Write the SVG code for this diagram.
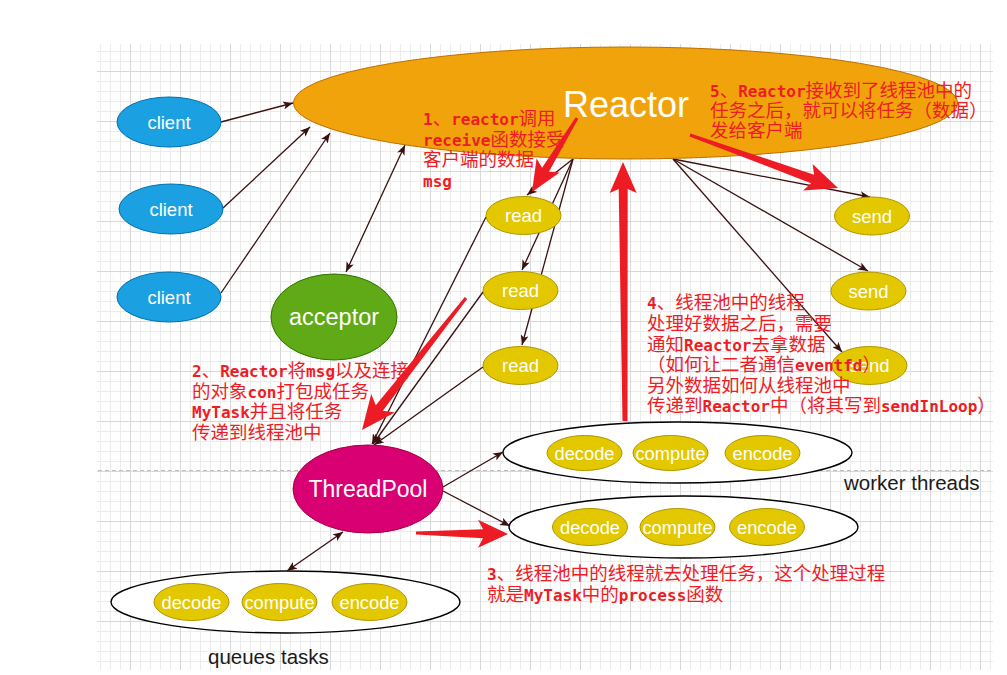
<svg xmlns="http://www.w3.org/2000/svg" width="1007" height="675" viewBox="0 0 1007 675">
<defs>
<pattern id="grid" x="130" y="71" width="50" height="50" patternUnits="userSpaceOnUse">
<rect width="50" height="50" fill="#ffffff"/>
<path d="M10.5,0V50M20.5,0V50M30.5,0V50M40.5,0V50M0,10.5H50M0,20.5H50M0,30.5H50M0,40.5H50" stroke="#ececec" stroke-width="1"/>
<path d="M0.5,0V50M0,0.5H50" stroke="#d8d8d8" stroke-width="1"/>
</pattern>
<marker id="ah" viewBox="0 0 10 8" refX="10" refY="4" markerWidth="10" markerHeight="8" markerUnits="userSpaceOnUse" orient="auto-start-reverse">
<path d="M0,0 L10,4 L0,8 L2.5,4z" fill="#3a0f0f"/>
</marker>
<style>
.lbl{font-family:"Liberation Sans",Arial,sans-serif;fill:#ffffff;text-anchor:middle}
.cap{font-family:"Liberation Sans",Arial,sans-serif;fill:#1a1a1a}
.note{font-family:"Noto Sans CJK SC",sans-serif;font-size:18.5px;fill:#ee1c25}
.m{font-family:"DejaVu Sans Mono",monospace;font-size:16px;font-weight:bold}
.con{fill:none;stroke:#3a0f0f;stroke-width:1.3;marker-end:url(#ah)}
.both{marker-start:url(#ah)}
.yel{fill:#e3c800;stroke:#b09500;stroke-width:1}
.box{fill:#ffffff;stroke:#000000;stroke-width:1.4}
.red{fill:#ed1c24;stroke:none}
</style>
</defs>
<rect width="1007" height="675" fill="#ffffff"/>
<rect x="97" y="44" width="896" height="626" fill="url(#grid)"/>
<line x1="98" y1="470.5" x2="993" y2="470.5" stroke="#bdbdbd" stroke-width="1" stroke-dasharray="4,3"/>

<g id="containers">
<g id="worker1-box"><ellipse cx="677.5" cy="452.5" rx="174.5" ry="30.5" class="box"/></g>
<g id="worker2-box"><ellipse cx="683.5" cy="527" rx="174.5" ry="31" class="box"/></g>
<g id="queue-box"><ellipse cx="285.5" cy="602" rx="174.5" ry="31" class="box"/></g>
</g>

<g id="connectors">
<path class="con" d="M221,122 L293,103"/>
<path class="con" d="M223,208 L310,127"/>
<path class="con" d="M221,293 L330,133"/>
<path class="con both" d="M405,145 L346,272"/>
<path class="con" d="M573,159 L527,195"/>
<path class="con" d="M573,159 L522,270"/>
<path class="con" d="M573,159 L522,345"/>
<path class="con" d="M486,217 L372,444"/>
<path class="con" d="M483,292 L373,444"/>
<path class="con" d="M483,367 L374,445"/>
<path class="con" d="M673,159 L870,197"/>
<path class="con" d="M673,159 L868,271"/>
<path class="con" d="M673,159 L842,352"/>
<path class="con" d="M443,487 L503,452"/>
<path class="con" d="M443,491 L510,526"/>
<path class="con both" d="M343,532 L287,571"/>
</g>

<g id="reactor">
<ellipse cx="625.5" cy="103" rx="332" ry="56" fill="#f0a30a" stroke="#bd7000" stroke-width="1"/>
<text x="626" y="117" class="lbl" font-size="36">Reactor</text>
</g>
<g id="client1"><ellipse cx="169" cy="122" rx="52" ry="25" fill="#1ba1e2" stroke="#006eaf"/><text x="169" y="129" class="lbl" font-size="18.5">client</text></g>
<g id="client2"><ellipse cx="171" cy="209" rx="52" ry="25" fill="#1ba1e2" stroke="#006eaf"/><text x="171" y="216" class="lbl" font-size="18.5">client</text></g>
<g id="client3"><ellipse cx="169" cy="297" rx="52" ry="25" fill="#1ba1e2" stroke="#006eaf"/><text x="169" y="304" class="lbl" font-size="18.5">client</text></g>
<g id="acceptor"><ellipse cx="334" cy="317" rx="63" ry="43" fill="#60a917" stroke="#2d7600"/><text x="334" y="325" class="lbl" font-size="23.5">acceptor</text></g>
<g id="read1"><ellipse cx="523.5" cy="215.5" rx="37.5" ry="19" class="yel"/><text x="523.5" y="222" class="lbl" font-size="18.5">read</text></g>
<g id="read2"><ellipse cx="520.5" cy="290.5" rx="37.5" ry="19" class="yel"/><text x="520.5" y="297" class="lbl" font-size="18.5">read</text></g>
<g id="read3"><ellipse cx="520.5" cy="365.5" rx="37.5" ry="19" class="yel"/><text x="520.5" y="372" class="lbl" font-size="18.5">read</text></g>
<g id="send1"><ellipse cx="872" cy="216" rx="37.5" ry="19" class="yel"/><text x="872" y="222.5" class="lbl" font-size="18.5">send</text></g>
<g id="send2"><ellipse cx="868.5" cy="291" rx="37.5" ry="19" class="yel"/><text x="868.5" y="297.5" class="lbl" font-size="18.5">send</text></g>
<g id="send3"><ellipse cx="869.5" cy="365.5" rx="37.5" ry="19" class="yel"/><text x="869.5" y="372" class="lbl" font-size="18.5">send</text></g>
<g id="threadpool"><ellipse cx="368" cy="489" rx="75" ry="44" fill="#d80073" stroke="#a50040"/><text x="368" y="497" class="lbl" font-size="23">ThreadPool</text></g>

<g id="w1-decode"><ellipse cx="584.5" cy="453" rx="37.5" ry="17.5" class="yel"/><text x="584.5" y="459.5" class="lbl" font-size="18.3">decode</text></g>
<g id="w1-compute"><ellipse cx="670.5" cy="453" rx="37.5" ry="17.5" class="yel"/><text x="670.5" y="459.5" class="lbl" font-size="18.3">compute</text></g>
<g id="w1-encode"><ellipse cx="762.5" cy="453" rx="37.5" ry="17.5" class="yel"/><text x="762.5" y="459.5" class="lbl" font-size="18.3">encode</text></g>
<g id="w2-decode"><ellipse cx="590" cy="527" rx="37.5" ry="18.5" class="yel"/><text x="590" y="533.5" class="lbl" font-size="18.3">decode</text></g>
<g id="w2-compute"><ellipse cx="677.5" cy="527" rx="37.5" ry="18.5" class="yel"/><text x="677.5" y="533.5" class="lbl" font-size="18.3">compute</text></g>
<g id="w2-encode"><ellipse cx="767" cy="527" rx="37.5" ry="18.5" class="yel"/><text x="767" y="533.5" class="lbl" font-size="18.3">encode</text></g>
<g id="q-decode"><ellipse cx="191.5" cy="602" rx="37.5" ry="18.5" class="yel"/><text x="191.5" y="608.5" class="lbl" font-size="18.3">decode</text></g>
<g id="q-compute"><ellipse cx="279.5" cy="602" rx="37.5" ry="18.5" class="yel"/><text x="279.5" y="608.5" class="lbl" font-size="18.3">compute</text></g>
<g id="q-encode"><ellipse cx="369.5" cy="602" rx="37.5" ry="18.5" class="yel"/><text x="369.5" y="608.5" class="lbl" font-size="18.3">encode</text></g>

<g id="captions">
<text x="844" y="490" class="cap" font-size="20.5">worker threads</text>
<text x="208" y="664" class="cap" font-size="20.5">queues tasks</text>
</g>

<g id="notes" class="note">
<text x="423" y="125"><tspan class="m">1</tspan>、<tspan class="m">reactor</tspan>调用</text>
<text x="423" y="145.5"><tspan class="m">receive</tspan>函数接受</text>
<text x="423" y="166">客户端的数据</text>
<text x="423" y="186.5"><tspan class="m">msg</tspan></text>

<text x="710" y="97"><tspan class="m">5</tspan>、<tspan class="m">Reactor</tspan>接收到了线程池中的</text>
<text x="710" y="117">任务之后，就可以将任务（数据）</text>
<text x="710" y="137">发给客户端</text>

<text x="192" y="377"><tspan class="m">2</tspan>、<tspan class="m">Reactor</tspan>将<tspan class="m">msg</tspan>以及连接</text>
<text x="192" y="397.5">的对象<tspan class="m">con</tspan>打包成任务</text>
<text x="192" y="418"><tspan class="m">MyTask</tspan>并且将任务</text>
<text x="192" y="438.5">传递到线程池中</text>

<text x="647" y="309"><tspan class="m">4</tspan>、线程池中的线程</text>
<text x="647" y="330">处理好数据之后，需要</text>
<text x="647" y="350.5">通知<tspan class="m">Reactor</tspan>去拿数据</text>
<text x="647" y="371">（如何让二者通信<tspan class="m">eventfd</tspan>）</text>
<text x="647" y="391.5">另外数据如何从线程池中</text>
<text x="647" y="412">传递到<tspan class="m">Reactor</tspan>中（将其写到<tspan class="m">sendInLoop</tspan>）</text>

<text x="487" y="580"><tspan class="m">3</tspan>、线程池中的线程就去处理任务，这个处理过程</text>
<text x="487" y="601">就是<tspan class="m">MyTask</tspan>中的<tspan class="m">process</tspan>函数</text>
</g>

<g id="red-arrows">
<polygon class="red" points="578.28,118.78 548.93,171.86 559.65,172.52 532,192 536.57,158.5 542.09,167.7 575.72,117.22"/>
<polygon class="red" points="467.18,298.93 382.87,410.78 394.84,412.57 362,430 371.26,393.99 375.79,405.2 464.82,297.07"/>
<polygon class="red" points="627.5,421 627.7,189 636.7,193 623,162 609.7,193 618.7,189 622.5,421"/>
<polygon class="red" points="689.49,136.41 811.06,183.14 803.15,190.4 838,188 812.59,164.04 814.1,174.66 690.51,133.59"/>
<polygon class="red" points="416,534.5 483,538.2 478,547.7 508,534 478,519.7 483,529.2 416,531.5"/>
</g>
</svg>
